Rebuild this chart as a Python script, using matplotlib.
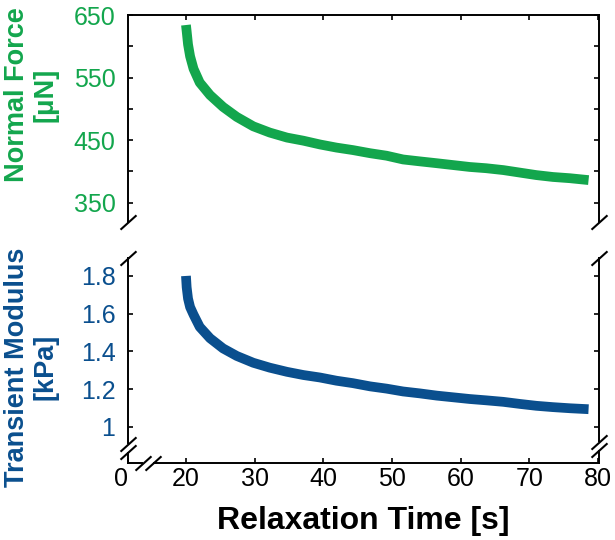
import numpy as np
import matplotlib
matplotlib.use('Agg')
import matplotlib.pyplot as plt
from matplotlib import ticker, transforms

plt.rcParams['font.family'] = ['Liberation Sans', 'DejaVu Sans']

GREEN = '#13a64d'
BLUE = '#0a4f8e'

# values
time_s = [20.0, 20.1, 20.3, 20.6, 21.1, 22.0, 23.5, 25.4, 27.4, 29.8, 32.2, 34.7, 37.1, 39.5,
          41.9, 44.3, 46.8, 49.2, 51.6, 54.0, 56.5, 58.9, 61.3, 63.7, 66.2, 68.6, 71.0, 73.4,
          75.9, 78.6]
force_uN = [634, 624, 603, 584, 564, 542, 522, 503, 487, 472, 462, 454, 449, 443,
            438, 434, 429, 425, 419, 416, 413, 410, 407, 405, 402, 398, 394, 391,
            389, 386]
modulus_kPa = [1.80, 1.74, 1.68, 1.635, 1.595, 1.53, 1.47, 1.416, 1.376, 1.34, 1.314, 1.292,
               1.275, 1.262, 1.245, 1.232, 1.215, 1.203, 1.188, 1.178, 1.166, 1.157, 1.148,
               1.141, 1.133, 1.122, 1.112, 1.105, 1.099, 1.094]

x_ticks = [20, 30, 40, 50, 60, 70, 80]
force_ticks = [350, 450, 550, 650]
force_minor = [400, 500, 600]
mod_ticks = [1.0, 1.2, 1.4, 1.6, 1.8]

x_left = 11.56  # left spine, labelled "0" (broken axis)

fig = plt.figure(figsize=(6.15, 5.4), dpi=100)
ax_top = fig.add_axes([0.2081, 0.5889, 0.7659, 0.3833])
ax_bot = fig.add_axes([0.2081, 0.1426, 0.7659, 0.3796])

line_kw = dict(lw=7, solid_capstyle='butt', solid_joinstyle='round')
ax_top.plot(time_s, force_uN, color=GREEN, **line_kw)
ax_bot.plot(time_s, modulus_kPa, color=BLUE, **line_kw)

for ax in (ax_top, ax_bot):
    ax.set_xlim(x_left, 80.12)
    for s in ax.spines.values():
        s.set_linewidth(1.4)
    ax.tick_params(direction='in', length=3.8, width=1.2, labelsize=18, pad=9,
                   which='both', right=True)

# top panel
ax_top.set_ylim(319, 650)
ax_top.spines['bottom'].set_visible(False)
ax_top.set_yticks(force_ticks)
ax_top.set_yticks(force_minor, minor=True)
ax_top.set_xticks(x_ticks)
ax_top.tick_params(axis='x', top=True, bottom=False, labeltop=False, labelbottom=False)
ax_top.tick_params(axis='y', labelcolor=GREEN, which='both')

# bottom panel
ax_bot.set_ylim(0.809, 1.895)
ax_bot.spines['top'].set_visible(False)
ax_bot.set_yticks(mod_ticks)
ax_bot.yaxis.set_major_formatter(ticker.FormatStrFormatter('%g'))
ax_bot.tick_params(axis='y', labelcolor=BLUE)
ax_bot.set_xticks([x_left] + x_ticks)
ax_bot.set_xticklabels(['0'] + [str(t) for t in x_ticks])
ax_bot.tick_params(axis='x', top=False, pad=3)
lbl0 = ax_bot.get_xticklabels()[0]
lbl0.set_transform(lbl0.get_transform() + transforms.ScaledTranslation(-5 / 72, 0, fig.dpi_scale_trans))

ax_bot.set_xlabel('Relaxation Time [s]', fontsize=23, fontweight='bold', labelpad=11)

fig.text(31 / 615, 1 - 95 / 540, 'Normal Force\n[\u03bcN]', rotation=90, ha='center', va='center',
         ma='center', fontsize=19.5, fontweight='bold', color=GREEN, linespacing=1.1)
fig.text(31 / 615, 1 - 367 / 540, 'Transient Modulus\n[kPa]', rotation=90, ha='center', va='center',
         ma='center', fontsize=19.5, fontweight='bold', color=BLUE, linespacing=1.1)

# axis break marks
slash = [(-1, -0.9), (1, 0.9)]
mk = dict(marker=slash, markersize=11.5, linestyle='none', color='k', mec='k', mew=1.5,
          clip_on=False, zorder=5)


def gap(ax, xs, ys):
    ax.plot(xs, ys, transform=ax.transAxes, color='white', lw=3, clip_on=False, zorder=4,
            solid_capstyle='butt')


ax_top.plot([0, 1], [0, 0], transform=ax_top.transAxes, **mk)
ax_bot.plot([0, 1], [1, 1], transform=ax_bot.transAxes, **mk)

gap(ax_bot, [0, 0], [0.054, 0.093])
ax_bot.plot([0, 0], [0.054, 0.093], transform=ax_bot.transAxes, **mk)
gap(ax_bot, [1, 1], [0.063, 0.102])
ax_bot.plot([1, 1], [0.063, 0.102], transform=ax_bot.transAxes, **mk)
gap(ax_bot, [0.032, 0.053], [0, 0])
ax_bot.plot([0.032, 0.053], [0, 0], transform=ax_bot.transAxes, **mk)

fig.savefig('out.png', dpi=100)
